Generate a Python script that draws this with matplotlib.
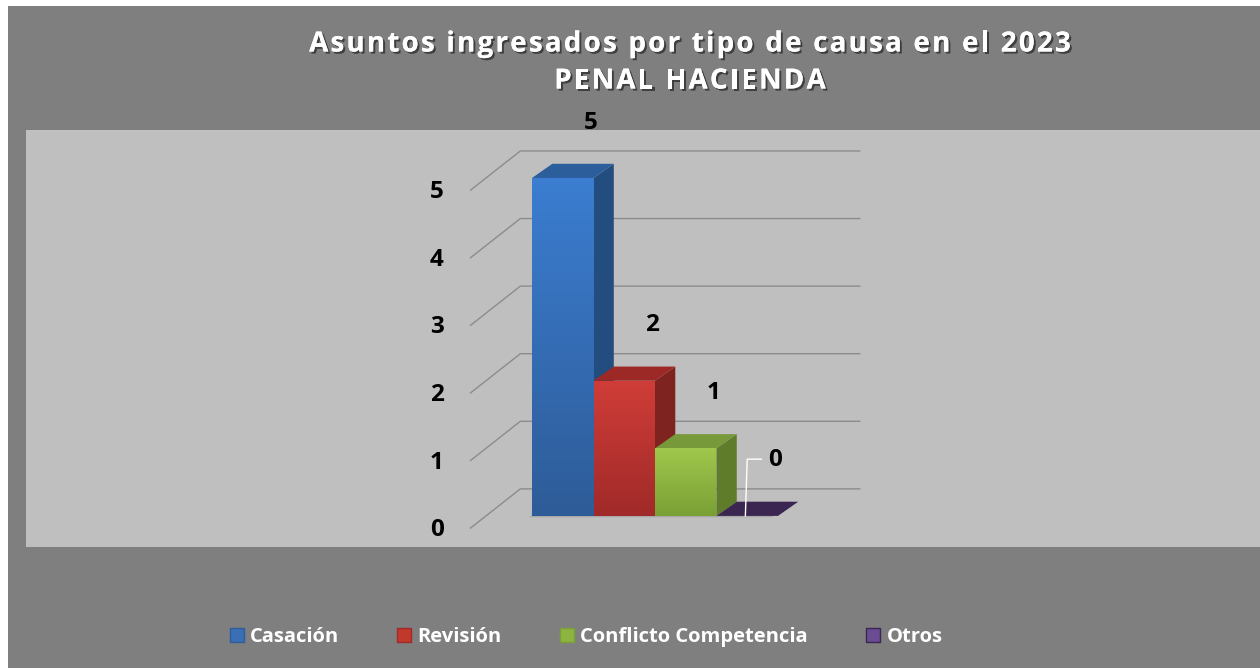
import numpy as np
import matplotlib
matplotlib.use('Agg')
import matplotlib.pyplot as plt
from matplotlib.patches import Polygon, Rectangle, Patch
import matplotlib.patheffects as pe

plt.rcParams['font.family'] = ['Open Sans', 'DejaVu Sans']

# data
categories = ['Casación', 'Revisión', 'Conflicto Competencia', 'Otros']
values = [5, 2, 1, 0]
yticks = [0, 1, 2, 3, 4, 5]
title_lines = ['Asuntos ingresados por tipo de causa en el 2023', 'PENAL HACIENDA']

# colours: (front top, front bottom, side, top face, legend)
colors = [
    ('#3b7dd0', '#2e5c98', '#234d7e', '#2d5e9c', '#3a6fb5'),
    ('#d03d38', '#a02a29', '#7e2320', '#9c2926', '#c0392b'),
    ('#9fc74c', '#7aa035', '#5f7c2b', '#77993a', '#8db441'),
    ('#4a3566', '#3a2650', '#2a1c3c', '#3a2650', '#6a4c93'),
]

W, H = 1260, 668
fig = plt.figure(figsize=(W / 100, H / 100), dpi=100, facecolor='white')
fig.patches.append(Rectangle((8 / W, 0), 1, 1 - 6 / H, transform=fig.transFigure,
                             facecolor='#7f7f7f', edgecolor='none', zorder=-5))

ax = fig.add_axes([26 / W, 1 - 547 / H, 1 - 26 / W, (547 - 130) / H])
ax.set_facecolor('#bfbfbf')
for s in ax.spines.values():
    s.set_visible(False)
ax.set_xticks([])
ax.set_yticks([])

# 3d geometry in data units
wall_dx, wall_dy = 0.81, 0.58      # floor depth (front edge -> back wall)
floor_y = -0.18                    # front floor edge
left_x = -1.0                      # front-left corner of floor
right_x = 5.33                     # right end of back wall
bar_dx, bar_dy = 0.33, 0.21        # bar depth

# gridlines: front diagonal + back wall line
for v in yticks:
    y0 = v + floor_y
    ax.plot([left_x, left_x + wall_dx, right_x], [y0, y0 + wall_dy, y0 + wall_dy],
            color='#8c8c8c', lw=1, zorder=1)
    ax.text(left_x - 0.55, y0 - 0.03, str(v), ha='center', va='center',
            fontsize=17.5, fontweight='bold', color='black')


def shaded(poly, c1, c2, z):
    patch = Polygon(poly, closed=True, facecolor='none', edgecolor='none', zorder=z)
    ax.add_patch(patch)
    xs = [p[0] for p in poly]
    ys = [p[1] for p in poly]
    cmap = matplotlib.colors.LinearSegmentedColormap.from_list('g', [c2, c1])
    grad = np.linspace(0, 1, 64).reshape(-1, 1)
    im = ax.imshow(grad, cmap=cmap, origin='lower', aspect='auto', zorder=z,
                   extent=[min(xs), max(xs), min(ys), max(ys)], interpolation='bilinear')
    im.set_clip_path(patch)


# floor shadow under bars
n = len(values)
ax.add_patch(Polygon([(-0.05, -0.02), (n - 0.1, -0.02), (n - 0.1 + bar_dx, bar_dy),
                      (bar_dx, bar_dy)], closed=True, facecolor='#a8a8a8',
                     edgecolor='none', zorder=2))

for i, (v, c) in enumerate(zip(values, colors)):
    x0, x1 = i, i + 1
    z = 3 + i * 0.1
    # side face
    shaded([(x1, 0), (x1 + bar_dx, bar_dy), (x1 + bar_dx, v + bar_dy), (x1, v)],
           c[2], c[2], z)
    # top face
    ax.add_patch(Polygon([(x0, v), (x1, v), (x1 + bar_dx, v + bar_dy), (x0 + bar_dx, v + bar_dy)],
                         closed=True, facecolor=c[3], edgecolor='none', zorder=z + 0.01))
    # front face
    if v > 0:
        shaded([(x0, 0), (x1, 0), (x1, v), (x0, v)], c[0], c[1], z + 0.02)
    # value label
    lx, ly = x0 + 0.5 + 0.45, v + 0.82
    ax.text(lx, ly, str(v), ha='center', va='center', fontsize=17.5,
            fontweight='bold', color='black', zorder=10)
    if v == 0:
        ax.plot([lx - 0.22, lx - 0.45, lx - 0.48], [ly + 0.02, ly + 0.02, 0],
                color='white', lw=1, zorder=9)

ax.set_xlim(-8.23, 11.84)
ax.set_ylim(-0.46, 5.71)

# title with letter spacing (drawn char by char)
renderer = fig.canvas.get_renderer()
shadow = [pe.withSimplePatchShadow(offset=(1.5, -1.5), shadow_rgbFace='black', alpha=0.5),
          pe.Normal()]
spacing = 2.2  # px between letters
for line, yc in zip(title_lines, [44, 81]):
    chars = []
    for ch in line:
        t = fig.text(0, 1 - yc / H, ch, ha='left', va='center', fontsize=20,
                     fontweight='bold', color='white', path_effects=shadow)
        chars.append(t)
    widths = []
    for ch, t in zip(line, chars):
        if ch == ' ':
            t.set_text('a a')
            w2 = t.get_window_extent(renderer).width
            t.set_text('aa')
            w1 = t.get_window_extent(renderer).width
            t.set_text(' ')
            widths.append(w2 - w1)
        else:
            widths.append(t.get_window_extent(renderer).width)
    total = sum(widths) + spacing * (len(line) - 1)
    x = 690 - total / 2
    for t, w in zip(chars, widths):
        t.set_x(x / W)
        x += w + spacing

handles = [Patch(facecolor=c[4], edgecolor=c[1]) for c in colors]
leg = fig.legend(handles, categories, loc='center', bbox_to_anchor=(586 / W, 1 - 637 / H),
                 ncol=4, frameon=False, handlelength=0.7, handleheight=0.7,
                 handletextpad=0.3, columnspacing=2.9,
                 prop={'weight': 'bold', 'size': 14.5})
for t in leg.get_texts():
    t.set_color('white')

fig.savefig('out.png', dpi=100, facecolor=fig.get_facecolor())
